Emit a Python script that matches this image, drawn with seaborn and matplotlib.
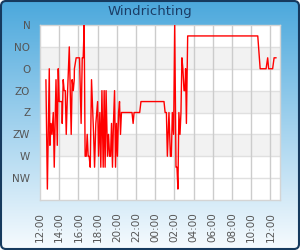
import numpy as np
import pandas as pd
import matplotlib
matplotlib.use("Agg")
import matplotlib.pyplot as plt
from matplotlib.patches import FancyBboxPatch
from matplotlib.colors import LinearSegmentedColormap
import seaborn as sns

# ---- data -------------------------------------------------------------
times = ["12:37", "12:46", "12:58", "13:02", "13:09", "13:15", "13:23", "13:29",
         "13:40", "13:48", "13:54", "14:00", "14:17", "14:19", "14:25", "14:31",
         "14:38", "14:44", "14:50", "15:03", "15:15", "15:21", "15:28", "15:34",
         "15:35", "15:46", "16:07", "16:17", "16:24", "16:30", "16:36", "16:42",
         "16:49", "16:55", "17:01", "17:07", "17:14", "17:22", "17:35", "17:41",
         "17:49", "18:00", "18:06", "18:14", "18:20", "18:27", "18:35", "18:41",
         "18:47", "18:53", "19:02", "19:08", "19:15", "19:21", "19:27", "19:33",
         "19:39", "19:46", "19:52", "19:58", "20:04", "20:11", "20:17", "20:23",
         "20:29", "21:35", "21:42", "21:48", "22:23", "22:31", "00:55", "01:02",
         "01:10", "01:16", "01:26", "01:35", "01:41", "01:47", "01:55", "02:02",
         "02:10", "02:16", "02:22", "02:28", "02:35", "02:41", "02:47", "02:53",
         "03:00", "03:06", "03:10", "03:15", "03:23", "10:41", "10:56", "11:33",
         "11:43", "11:49", "12:14", "12:23", "12:36"]
direction_deg = [112.5, 337.5, 90, 247.5, 202.5, 225, 180, 292.5,
                 112.5, 247.5, 90, 157.5, 157.5, 202.5, 112.5, 135,
                 135, 225, 157.5, 45, 225, 112.5, 135, 112.5,
                 90, 67.5, 67.5, 202.5, 67.5, 67.5, 0, 270,
                 270, 225, 270, 270, 292.5, 112.5, 225, 292.5,
                 202.5, 157.5, 270, 180, 292.5, 135, 292.5, 135,
                 292.5, 135, 270, 225, 270, 270, 202.5, 292.5,
                 202.5, 135, 292.5, 202.5, 270, 180, 157.5, 225,
                 180, 180, 202.5, 180, 180, 157.5, 157.5, 180,
                 180, 270, 180, 270, 270, 180, 225, 0,
                 292.5, 292.5, 337.5, 180, 225, 180, 67.5, 90,
                 135, 135, 90, 202.5, 22.5, 22.5, 90, 90,
                 67.5, 90, 90, 67.5, 67.5]
compass_labels = ["N", "NO", "O", "ZO", "Z", "ZW", "W", "NW"]
compass_deg = [0, 45, 90, 135, 180, 225, 270, 315]
x_tick_labels = ["12:00", "14:00", "16:00", "18:00", "20:00", "22:00", "00:00",
                 "02:00", "04:00", "06:00", "08:00", "10:00", "12:00"]
title = "Windrichting"

# hours since the first 12:00, continuing across midnight
hours = []
prev = -1
day = 0
for t in times:
    hh, mm = map(int, t.split(":"))
    h = (hh - 12) % 24 + mm / 60 + 24 * day
    if h < prev:
        day += 1
        h += 24
    hours.append(h)
    prev = h
df = pd.DataFrame({"hours": hours, "deg": direction_deg})

# ---- figure -----------------------------------------------------------
sns.set_theme(style="white")
plt.rcParams["font.family"] = ["DejaVu Sans"]
W, H = 300, 250
fig = plt.figure(figsize=(W / 100, H / 100), dpi=100)

# gradient background with rounded frame
bg = fig.add_axes([0, 0, 1, 1], zorder=-10)
bg.set_xlim(0, W)
bg.set_ylim(H, 0)
bg.axis("off")
cmap = LinearSegmentedColormap.from_list(
    "bg", [(0.0, "#4ba8dc"), (0.5, "#a2d2ee"), (1.0, "#f7fbfe")])
grad = np.linspace(0, 1, 256).reshape(-1, 1)
im = bg.imshow(grad, cmap=cmap, aspect="auto", extent=[0, W, H, 0])
frame = FancyBboxPatch((1, 1), W - 2, H - 2,
                       boxstyle="round,pad=0,rounding_size=5",
                       facecolor="none", edgecolor="#163a5e", linewidth=1.5)
bg.add_patch(frame)
im.set_clip_path(frame)

ax = fig.add_axes([40 / W, 1 - 200 / H, 240 / W, 175 / H])
ax.set_facecolor("white")
for lo, hi in [(45, 90), (135, 180), (225, 270)]:
    ax.axhspan(lo, hi, color="#f2f2f2", zorder=0, linewidth=0)

sns.lineplot(data=df, x="hours", y="deg", ax=ax, color="#ff0000",
             linewidth=1.0, sort=False, estimator=None, zorder=3)

ax.set_xlim(0, 25)
ax.set_ylim(360, 0)
ax.set_yticks(compass_deg)
ax.set_yticklabels(compass_labels)
ax.set_xticks(np.arange(0, 25, 2))
ax.set_xticklabels(x_tick_labels, rotation=90)
ax.set_xlabel("")
ax.set_ylabel("")
for y in compass_deg[1:]:
    ax.axhline(y, color="#e0e0e0", linewidth=1, zorder=1)
for x in np.arange(2, 25, 2):
    ax.axvline(x, color="#cccccc", linewidth=1, zorder=1)
ax.tick_params(axis="both", length=0, colors="#555555", labelsize=7.5)
ax.tick_params(axis="y", pad=7)
ax.tick_params(axis="x", pad=9)
for s in ax.spines.values():
    s.set_color("#d4d4d4")
    s.set_linewidth(1)

fig.text(150 / W, 1 - 12 / H, title, ha="center", va="center",
         color="#1b3d66", fontsize=9.5)

fig.savefig("out.png", dpi=100)
